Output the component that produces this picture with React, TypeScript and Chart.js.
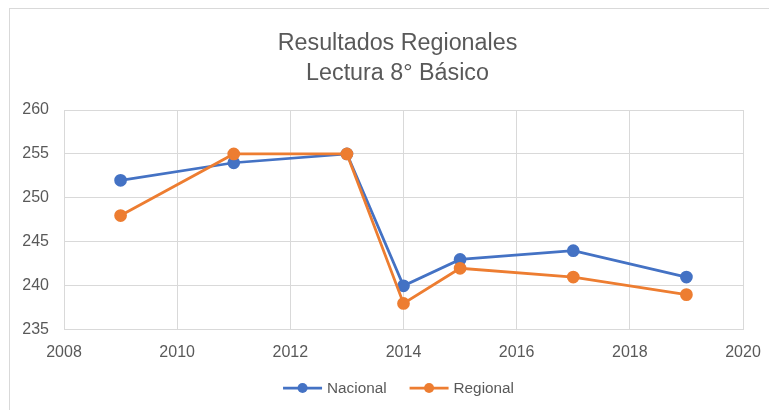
import React, { useEffect, useRef } from "react";
import { Chart, registerables } from "chart.js";

Chart.register(...registerables);

const titleLines = ["Resultados Regionales", "Lectura 8° Básico"];
const years = [2009, 2011, 2013, 2014, 2015, 2017, 2019];
const nacional = [252, 254, 255, 240, 243, 244, 241];
const regional = [248, 255, 255, 238, 242, 241, 239];
const seriesNames = ["Nacional", "Regional"];
const seriesColors = ["#4472C4", "#ED7D31"];

const FONT = "'Liberation Sans', Arial, sans-serif";
const TEXT = "#595959";
const GRID = "#d9d9d9";

const borderPlugin = {
  id: "outerBorder",
  beforeDraw(chart: any) {
    const ctx = chart.ctx;
    ctx.save();
    ctx.fillStyle = "#ffffff";
    ctx.fillRect(0, 0, chart.width, chart.height);
    ctx.strokeStyle = GRID;
    ctx.lineWidth = 1;
    ctx.strokeRect(9.5, 8.5, chart.width + 20, chart.height + 20);
    ctx.restore();
  },
};

const titlePlugin = {
  id: "twoLineTitle",
  afterDraw(chart: any) {
    const ctx = chart.ctx;
    const cx = (chart.chartArea.left + chart.chartArea.right) / 2 - 6;
    ctx.save();
    ctx.font = `23.3px ${FONT}`;
    ctx.fillStyle = TEXT;
    ctx.textAlign = "center";
    ctx.textBaseline = "alphabetic";
    titleLines.forEach((t, i) => ctx.fillText(t, cx, 50 + i * 30));
    ctx.restore();
  },
};

const lineLegendPlugin = {
  id: "lineLegend",
  afterDraw(chart: any) {
    const ctx = chart.ctx;
    const ds = chart.data.datasets;
    const lineLen = 39;
    const textGap = 5;
    const itemGap = 23;
    const cy = 388;
    ctx.save();
    ctx.font = `15.3px ${FONT}`;
    ctx.textBaseline = "middle";
    ctx.textAlign = "left";
    const widths = ds.map((d: any) => ctx.measureText(d.label).width);
    let total = 0;
    widths.forEach((w: number, i: number) => {
      total += lineLen + textGap + w + (i < widths.length - 1 ? itemGap : 0);
    });
    const centerX = (chart.chartArea.left + chart.chartArea.right) / 2 - 5;
    let x = centerX - total / 2;
    ds.forEach((d: any, i: number) => {
      const color = d.borderColor;
      ctx.strokeStyle = color;
      ctx.lineWidth = 2.75;
      ctx.beginPath();
      ctx.moveTo(x, cy);
      ctx.lineTo(x + lineLen, cy);
      ctx.stroke();
      ctx.fillStyle = color;
      ctx.beginPath();
      ctx.arc(x + lineLen / 2, cy, 5, 0, Math.PI * 2);
      ctx.fill();
      ctx.fillStyle = TEXT;
      ctx.fillText(d.label, x + lineLen + textGap, cy + 1);
      x += lineLen + textGap + widths[i] + itemGap;
    });
    ctx.restore();
  },
};

export default function App() {
  const ref = useRef<HTMLCanvasElement | null>(null);

  useEffect(() => {
    if (!ref.current) return;
    const series = [nacional, regional];
    const chart = new Chart(ref.current, {
      type: "line",
      data: {
        datasets: series.map((vals, i) => ({
          label: seriesNames[i],
          data: years.map((y, j) => ({ x: y, y: vals[j] })),
          borderColor: seriesColors[i],
          backgroundColor: seriesColors[i],
          pointBackgroundColor: seriesColors[i],
          pointBorderColor: seriesColors[i],
          borderWidth: 2.75,
          pointRadius: 5,
          pointHoverRadius: 5,
          tension: 0,
          order: i === 0 ? 1 : 0,
        })),
      },
      options: {
        animation: false,
        responsive: false,
        maintainAspectRatio: false,
        layout: { padding: { left: 0, right: 26, top: 110, bottom: 35 } },
        scales: {
          x: {
            type: "linear",
            min: 2008,
            max: 2020,
            ticks: {
              stepSize: 2,
              color: TEXT,
              font: { family: FONT, size: 16 },
              padding: 13,
              maxRotation: 0,
              callback: (v: any) => String(v),
            },
            grid: { color: GRID, drawTicks: false },
            border: { color: GRID },
            afterFit: (scale: any) => {
              scale.paddingLeft = 0;
              scale.paddingRight = 0;
            },
          },
          y: {
            min: 235,
            max: 260,
            ticks: {
              stepSize: 5,
              color: TEXT,
              font: { family: FONT, size: 16 },
              padding: 15,
            },
            grid: { color: GRID, drawTicks: false },
            border: { color: GRID },
            afterFit: (scale: any) => {
              scale.width = 64;
              scale.paddingTop = 0;
              scale.paddingBottom = 0;
            },
          },
        },
        plugins: {
          title: { display: false },
          legend: { display: false },
          tooltip: { enabled: false },
        },
      },
      plugins: [borderPlugin, titlePlugin, lineLegendPlugin],
    } as any);
    return () => chart.destroy();
  }, []);

  return (
    <div style={{ position: "fixed", left: 0, top: 0, width: 769, height: 410, background: "#fff" }}>
      <canvas ref={ref} width={769} height={410} style={{ width: 769, height: 410, display: "block" }} />
    </div>
  );
}
